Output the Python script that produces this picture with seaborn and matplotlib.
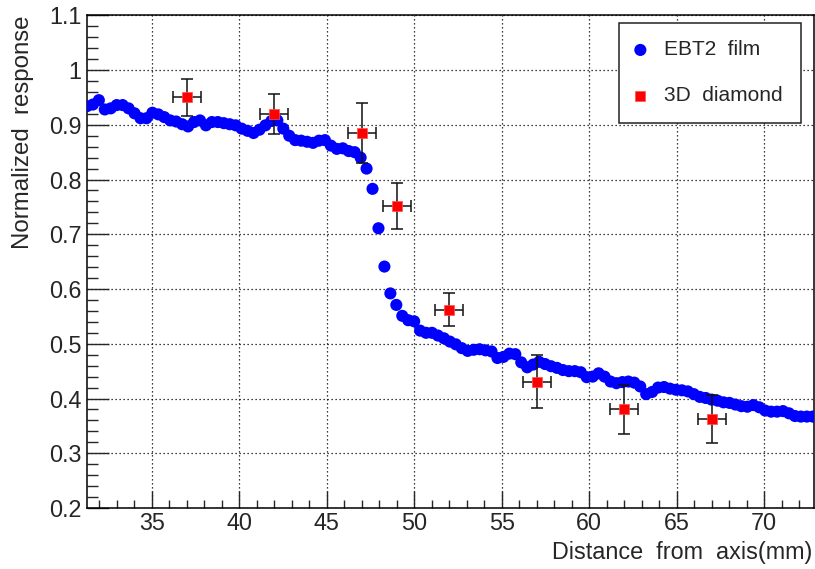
import matplotlib
matplotlib.use("Agg")
import matplotlib.pyplot as plt
from matplotlib.ticker import MultipleLocator, FuncFormatter
import seaborn as sns
import pandas as pd

# EBT2 film profile (scan step ~0.34 mm)
film_x = [31.30, 31.64, 31.98, 32.32, 32.66, 33.00, 33.34, 33.68, 34.02, 34.36,
          34.70, 35.04, 35.38, 35.72, 36.06, 36.40, 36.74, 37.08, 37.42, 37.76,
          38.10, 38.44, 38.78, 39.12, 39.46, 39.80, 40.14, 40.48, 40.82, 41.16,
          41.50, 41.84, 42.18, 42.52, 42.86, 43.20, 43.54, 43.88, 44.22, 44.56,
          44.90, 45.24, 45.58, 45.92, 46.26, 46.60, 46.94, 47.28, 47.62, 47.96,
          48.30, 48.64, 48.98, 49.32, 49.66, 50.00, 50.34, 50.68, 51.02, 51.36,
          51.70, 52.04, 52.38, 52.72, 53.06, 53.40, 53.74, 54.08, 54.42, 54.76,
          55.10, 55.44, 55.78, 56.12, 56.46, 56.80, 57.14, 57.48, 57.82, 58.16,
          58.50, 58.84, 59.18, 59.52, 59.86, 60.20, 60.54, 60.88, 61.22, 61.56,
          61.90, 62.24, 62.58, 62.92, 63.26, 63.60, 63.94, 64.28, 64.62, 64.96,
          65.30, 65.64, 65.98, 66.32, 66.66, 67.00, 67.34, 67.68, 68.02, 68.36,
          68.70, 69.04, 69.38, 69.72, 70.06, 70.40, 70.74, 71.08, 71.42, 71.76,
          72.10, 72.44, 72.78]
film_y = [0.934, 0.937, 0.945, 0.928, 0.930, 0.936, 0.936, 0.930, 0.921, 0.912,
          0.912, 0.922, 0.919, 0.914, 0.908, 0.906, 0.901, 0.897, 0.905, 0.908,
          0.899, 0.905, 0.905, 0.903, 0.901, 0.899, 0.893, 0.889, 0.885, 0.891,
          0.899, 0.907, 0.908, 0.893, 0.880, 0.872, 0.871, 0.869, 0.867, 0.871,
          0.872, 0.862, 0.856, 0.857, 0.852, 0.850, 0.840, 0.820, 0.783, 0.711,
          0.641, 0.592, 0.571, 0.551, 0.543, 0.541, 0.524, 0.520, 0.520, 0.515,
          0.510, 0.504, 0.499, 0.492, 0.487, 0.489, 0.490, 0.488, 0.486, 0.474,
          0.476, 0.482, 0.481, 0.466, 0.457, 0.462, 0.467, 0.463, 0.459, 0.456,
          0.452, 0.450, 0.450, 0.448, 0.439, 0.440, 0.446, 0.440, 0.431, 0.428,
          0.430, 0.431, 0.429, 0.422, 0.408, 0.412, 0.420, 0.421, 0.418, 0.416,
          0.415, 0.413, 0.408, 0.403, 0.401, 0.398, 0.396, 0.393, 0.392, 0.389,
          0.386, 0.385, 0.388, 0.384, 0.378, 0.376, 0.376, 0.377, 0.373, 0.368,
          0.367, 0.367, 0.367]

# 3D diamond detector measurements
diamond_x = [37, 42, 47, 49, 52, 57, 62, 67]
diamond_y = [0.950, 0.920, 0.885, 0.752, 0.562, 0.431, 0.380, 0.362]
diamond_xerr = [0.8, 0.8, 0.8, 0.8, 0.8, 0.8, 0.8, 0.8]
diamond_yerr = [0.034, 0.037, 0.055, 0.042, 0.030, 0.048, 0.044, 0.044]

film = pd.DataFrame({"x": film_x, "y": film_y})
diamond = pd.DataFrame({"x": diamond_x, "y": diamond_y})

sns.set_style("ticks")
plt.rcParams["font.family"] = ["Liberation Sans", "DejaVu Sans"]

W, H = 815, 569
fig = plt.figure(figsize=(W / 100, H / 100), dpi=100)
x0, x1, yt, yb = 87.3, 814.0, 15.3, 508.0
ax = fig.add_axes([x0 / W, 1 - yb / H, (x1 - x0) / W, (yb - yt) / H])

ax.set_xlim(31.32, 72.85)
ax.set_ylim(0.2, 1.1)

ax.grid(True, which="major", color="black", linestyle=(0, (1, 2.2)), linewidth=0.9)
ax.set_axisbelow(True)

sns.scatterplot(data=film, x="x", y="y", ax=ax, color="#0000ff", marker="o",
                s=76, edgecolor="none", linewidth=0, label="EBT2  film", zorder=3)

ax.errorbar(diamond_x, diamond_y, xerr=diamond_xerr, yerr=diamond_yerr, fmt="none",
            ecolor="#111111", elinewidth=1.1, capsize=4.3, capthick=1.1, zorder=4)
sns.scatterplot(data=diamond, x="x", y="y", ax=ax, color="#ff0000", marker="s",
                s=58, edgecolor="#ff5050", linewidth=0.5, label="3D  diamond", zorder=5)

ax.xaxis.set_major_locator(MultipleLocator(5))
ax.xaxis.set_minor_locator(MultipleLocator(1))
ax.yaxis.set_major_locator(MultipleLocator(0.1))
ax.yaxis.set_minor_locator(MultipleLocator(0.02))
ax.yaxis.set_major_formatter(FuncFormatter(lambda v, p: f"{v:.1f}".rstrip("0").rstrip(".")))

ax.tick_params(axis="x", which="major", direction="in", length=12.2, width=1.0,
               labelsize=16.8, pad=3, top=False)
ax.tick_params(axis="x", which="minor", direction="in", length=5.8, width=1.0, top=False)
ax.tick_params(axis="y", which="major", direction="in", length=15.8, width=1.0,
               labelsize=16.8, pad=4, right=False)
ax.tick_params(axis="y", which="minor", direction="in", length=7.9, width=1.0, right=False)

for sp in ax.spines.values():
    sp.set_linewidth(1.1)
    sp.set_color("black")

ax.set_xlabel("Distance  from  axis(mm)", fontsize=16.8, loc="right")
ax.xaxis.label.set_va("baseline")
ax.xaxis.set_label_coords((812.0 - x0) / (x1 - x0), (yb - 559) / (yb - yt))
ax.set_ylabel("Normalized  response", fontsize=17.3, loc="top")
ax.yaxis.label.set_va("baseline")
ax.yaxis.set_label_coords((29.5 - x0) / (x1 - x0), 1.0)

leg = ax.legend(loc="upper left", bbox_to_anchor=((619 - x0) / (x1 - x0), 0,
                                                  (801 - 619) / (x1 - x0),
                                                  (yb - 22.7) / (yb - yt)),
                mode="expand", fontsize=15, frameon=True, fancybox=False,
                shadow=False, framealpha=1, edgecolor="#222222",
                borderpad=0.85, labelspacing=1.3, handlelength=0.35,
                handletextpad=0.95, borderaxespad=0, markerscale=1.0)
leg.get_frame().set_linewidth(1.1)

fig.savefig("out.png", dpi=100)
